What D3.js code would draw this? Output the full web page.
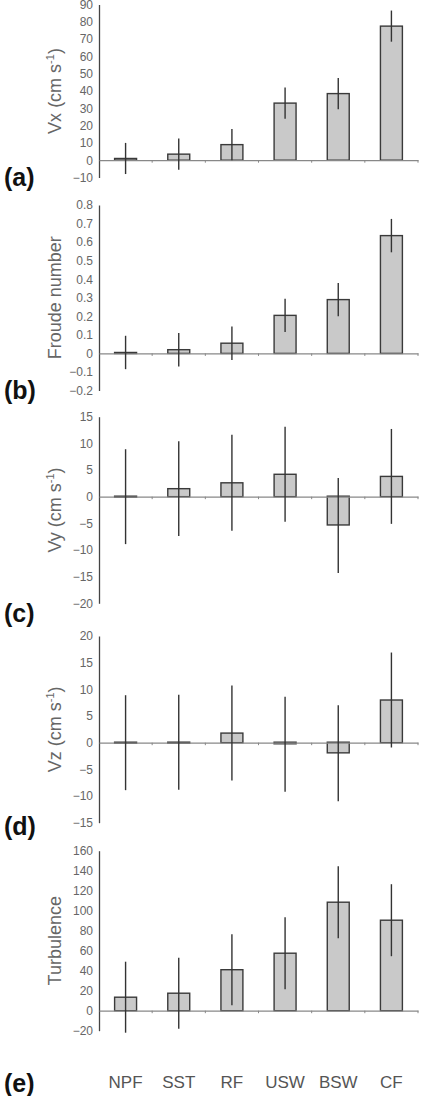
<!DOCTYPE html>
<html lang="en">
<head>
    <meta charset="UTF-8">
    <title>Flow panels</title>
    <script src="https://d3js.org/d3.v7.min.js"></script>
    <style>
        body { margin: 0; background: #fff; }
        text { font-family: "Liberation Sans", Arial, sans-serif; }
    </style>
</head>
<body>
    <svg width="421" height="1096" id="mainsvg"></svg>

    <script>
        // categories along the x axis
        const categories = ["NPF", "SST", "RF", "USW", "BSW", "CF"]

        // mean values and error (+/-) per panel
        const vxMean = [1, 3.5, 9, 33, 38.5, 77.5]
        const vxErr = [9, 9, 9, 9, 9, 9]
        const froudeMean = [0.005, 0.02, 0.055, 0.205, 0.29, 0.635]
        const froudeErr = [0.09, 0.09, 0.09, 0.09, 0.09, 0.09]
        const vyMean = [0, 1.5, 2.6, 4.2, -5.4, 3.8]
        const vyErr = [8.9, 8.9, 9, 8.9, 8.9, 8.9]
        const vzMean = [0, 0.1, 1.8, -0.3, -2, 8]
        const vzErr = [8.9, 8.9, 8.9, 8.9, 9, 8.9]
        const turbMean = [13.5, 17.5, 41, 57.5, 108.5, 90.5]
        const turbErr = [35.5, 35.5, 35.5, 36, 36, 36]

        // tick labels per panel
        const vxTicks = [-10, 0, 10, 20, 30, 40, 50, 60, 70, 80, 90]
        const froudeTicks = [-0.2, -0.1, 0, 0.1, 0.2, 0.3, 0.4, 0.5, 0.6, 0.7, 0.8]
        const vyTicks = [-20, -15, -10, -5, 0, 5, 10, 15]
        const vzTicks = [-15, -10, -5, 0, 5, 10, 15, 20]
        const turbTicks = [-20, 0, 20, 40, 60, 80, 100, 120, 140, 160]

        const svg = d3.select("#mainsvg")
        const axisX0 = 99, axisX1 = 418

        // layout of each panel: pixel rows of top and bottom tick, letter row
        const panels = [
            {mean: vxMean, err: vxErr, ticks: vxTicks, title: "Vx", unit: true, letter: "(a)", top: 4.5, bottom: 177.5, letterY: 186},
            {mean: froudeMean, err: froudeErr, ticks: froudeTicks, title: "Froude number", unit: false, letter: "(b)", top: 205, bottom: 390.5, letterY: 399},
            {mean: vyMean, err: vyErr, ticks: vyTicks, title: "Vy", unit: true, letter: "(c)", top: 416.7, bottom: 603.3, letterY: 622},
            {mean: vzMean, err: vzErr, ticks: vzTicks, title: "Vz", unit: true, letter: "(d)", top: 636, bottom: 822.7, letterY: 835},
            {mean: turbMean, err: turbErr, ticks: turbTicks, title: "Turbulence", unit: false, letter: "(e)", top: 850.7, bottom: 1030.7, letterY: 1092}
        ]

        const xScale = d3.scaleBand()
            .domain(categories)
            .range([axisX0, axisX1])
            .paddingInner(0.587)
            .paddingOuter(0.2935)

        panels.forEach(p => {
            const g = svg.append("g")
            const yScale = d3.scaleLinear()
                .domain(d3.extent(p.ticks))
                .range([p.bottom, p.top])
            const data = categories.map((c, i) => ({cat: c, v: p.mean[i], e: p.err[i]}))

            // y axis: line + labels, no tick marks
            const yAxis = d3.axisLeft(yScale)
                .tickValues(p.ticks)
                .tickSize(0)
                .tickPadding(6)
                .tickFormat(d => d3.format("")(+d.toFixed(2)))
            const ya = g.append("g").attr("transform", `translate(${axisX0},0)`).call(yAxis)
            ya.select(".domain").attr("stroke", "#444").attr("stroke-width", 1.3)
            ya.selectAll(".tick text")
                .attr("fill", "#666")
                .attr("font-size", 12)
                .attr("font-family", "Liberation Sans, Arial, sans-serif")

            // bars (a zero bar still shows as a flat outline)
            g.selectAll(".bar").data(data).join("rect")
                .attr("class", "bar")
                .attr("x", d => xScale(d.cat))
                .attr("width", xScale.bandwidth())
                .attr("y", d => Math.min(yScale(Math.max(0, d.v)), yScale(0) - 0.5))
                .attr("height", d => Math.max(1, Math.abs(yScale(d.v) - yScale(0))))
                .attr("fill", "#c9c9c9")
                .attr("stroke", "#3a3a3a")
                .attr("stroke-width", 1.4)

            // zero line with small category ticks
            const xAxis = d3.axisBottom(xScale).tickSize(0).tickFormat("")
            const xa = g.append("g").attr("transform", `translate(0,${yScale(0)})`).call(xAxis)
            xa.select(".domain").attr("stroke", "#888").attr("stroke-width", 1.2)
            const bounds = d3.range(categories.length + 1).map(i => axisX0 + i * xScale.step())
            xa.selectAll(".sep").data(bounds.slice(1)).join("line")
                .attr("class", "sep")
                .attr("x1", d => d).attr("x2", d => d)
                .attr("y1", 0).attr("y2", 2.5)
                .attr("stroke", "#888")

            // error bars
            g.selectAll(".err").data(data).join("line")
                .attr("class", "err")
                .attr("x1", d => xScale(d.cat) + xScale.bandwidth() / 2)
                .attr("x2", d => xScale(d.cat) + xScale.bandwidth() / 2)
                .attr("y1", d => yScale(d.v + d.e))
                .attr("y2", d => yScale(d.v - d.e))
                .attr("stroke", "#333")
                .attr("stroke-width", 1.4)

            // y title
            const mid = (p.top + p.bottom) / 2
            const t = g.append("text")
                .attr("transform", `translate(61,${mid}) rotate(-90)`)
                .attr("text-anchor", "middle")
                .attr("fill", "#666")
                .attr("font-size", 18)
            t.append("tspan").text(p.title)
            if (p.unit) {
                t.append("tspan").text(" (cm s")
                t.append("tspan").text("-1").attr("font-size", 11).attr("dy", -7)
                t.append("tspan").text(")").attr("dy", 7)
            }

            // panel letter
            g.append("text")
                .attr("x", 4)
                .attr("y", p.letterY)
                .attr("font-size", 25)
                .attr("font-weight", "bold")
                .attr("fill", "#111")
                .text(p.letter)
        })

        // category labels under the last panel
        svg.selectAll(".cat").data(categories).join("text")
            .attr("class", "cat")
            .attr("x", d => xScale(d) + xScale.bandwidth() / 2)
            .attr("y", 1088)
            .attr("text-anchor", "middle")
            .attr("fill", "#555")
            .attr("font-size", 17)
            .text(d => d)
    </script>
</body>
</html>
